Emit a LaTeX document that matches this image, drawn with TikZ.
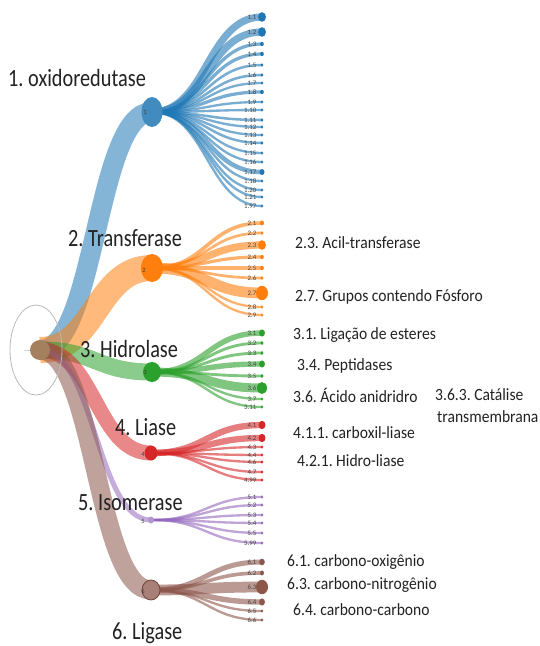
\documentclass[tikz,border=0pt]{standalone}
\usepackage{fontspec}
\setmainfont{Carlito}
\usepackage{graphicx}
\usetikzlibrary{shapes.geometric}
\definecolor{cA}{HTML}{1F77B4}
\definecolor{cB}{HTML}{FF7F0E}
\definecolor{cC}{HTML}{2CA02C}
\definecolor{cD}{HTML}{D62728}
\definecolor{cE}{HTML}{9467BD}
\definecolor{cF}{HTML}{8C564B}
\definecolor{rootc}{HTML}{A4805F}
\definecolor{leaftxt}{HTML}{444444}
\definecolor{labtxt}{HTML}{222222}
\pgfdeclarelayer{bg}
\pgfsetlayers{bg,main}
\frenchspacing
\tikzset{
  cnode/.style={ellipse, inner sep=0pt, draw=none},
  dotnode/.style={ellipse, inner sep=0pt, draw=none},
  leaflab/.style={anchor=east, inner sep=0pt, text=leaftxt, font=\fontsize{6.8}{7}\selectfont},
  clab/.style={inner sep=0pt, text=black!75, font=\fontsize{6.5}{7}\selectfont},
  biglab/.style={anchor=west, inner sep=0pt, text=labtxt, font=\fontsize{20.3}{22}\selectfont},
  smalllab/.style={anchor=west, inner sep=0pt, text=labtxt, font=\fontsize{15.6}{17}\selectfont},
  band/.style={line cap=butt, draw opacity=0.6},
  rootband/.style={line cap=butt, draw opacity=0.55},
}
\newcommand\classleaves[3]{%
  \foreach \n/\yy/\rr in {#3} {%
    \pgfmathsetmacro\w{max(1.3,1.8*\rr)}%
    \node[dotnode, fill=#2, minimum width={2*\rr*1pt}, minimum height={2.4*\rr*1pt}] (L#1-\n) at (262,\yy) {};
    \node[leaflab] (T#1-\n) at (256.5,\yy) {#1.\n};
    \begin{pgfonlayer}{bg}
      \draw[band, #2, line width=\w pt] (N#1.center) .. controls +(55,0) and +(-55,0) .. (L#1-\n.center);
    \end{pgfonlayer}
  }}
\newcommand\bigtext[1]{\scalebox{1}[1.22]{#1}}
\newcommand\smalltext[1]{\scalebox{1}[1.1]{#1}}
\begin{document}
\begin{tikzpicture}[x=1pt,y=-1pt]
\useasboundingbox (0,0) rectangle (539,646);

% root and frame
\node[ellipse, draw=gray!55, line width=0.8pt, minimum width=52pt, minimum height=90pt] (G) at (36,350) {};
\node[circle, fill=rootc, inner sep=0pt, minimum size=20pt] (R) at (40,350) {};
\node[inner sep=0pt, text=gray, font=\fontsize{5}{5}\selectfont] (RL) at (28,352) {\textasciitilde\textasciitilde\textasciitilde};

% class nodes
\node[cnode, fill=cA!85, minimum width=21pt, minimum height=30pt] (N1) at (152,112) {};
\node[cnode, fill=cB, minimum width=22pt, minimum height=28pt] (N2) at (152,268) {};
\node[cnode, fill=cC, minimum width=18pt, minimum height=20pt] (N3) at (152,372) {};
\node[cnode, fill=cD, minimum width=13pt, minimum height=15pt] (N4) at (151,453) {};
\node[cnode, fill=cE!70, minimum width=6pt, minimum height=7pt] (N5) at (151,520) {};
\node[cnode, fill=cF!75, draw=cF!80!black, line width=0.8pt, minimum width=18pt, minimum height=20pt] (N6) at (151,590) {};

\node[clab] (K1) at (145,112) {1};
\node[clab] (K2) at (144,270) {2};
\node[clab] (K3) at (145,372) {3};
\node[clab] (K4) at (143,454) {4};
\node[clab] (K5) at (143,521) {5};
\node[clab] (K6) at (143,591) {6};

% root bands
\begin{pgfonlayer}{bg}
\draw[rootband, cA, line width=20pt] (R.center) .. controls +(56,0) and +(-56,0) .. (N1.center);
\draw[rootband, cB, line width=26pt] (R.center) .. controls +(56,0) and +(-56,0) .. (N2.center);
\draw[rootband, cC, line width=17pt] (R.center) .. controls +(56,0) and +(-56,0) .. (N3.center);
\draw[rootband, cD, line width=15pt] (R.center) .. controls +(55,0) and +(-55,0) .. (N4.center);
\draw[rootband, cE, line width=5pt] (R.center) .. controls +(55,0) and +(-55,0) .. (N5.center);
\draw[rootband, cF, line width=19pt] (R.center) .. controls +(55,0) and +(-55,0) .. (N6.center);
\end{pgfonlayer}

% leaves
\classleaves{1}{cA}{1/17/4, 2/32/4, 3/44/1.8, 4/54/1.8, 5/65/1.4, 6/75/1.4, 7/83/1.3, 8/92/1.8, 9/102/1.3, 10/110/1.3, 11/120/1.4, 12/127/1.3, 13/135/1.3, 14/143/1.4, 15/153/1.3, 16/162/1.3, 17/172/2.5, 18/181/1.3, 20/190/1.3, 21/197/1.3, 97/206/1.3}
\classleaves{2}{cB}{1/223/2, 2/233/1.5, 3/245/4, 4/257/1.8, 5/268/1.8, 6/278/1.5, 7/293/6, 8/307/1.3, 9/315/1.3}
\classleaves{3}{cC}{1/333/3, 2/343/1.6, 3/353/1.6, 4/364/3, 5/376/1.6, 6/388/5, 7/399/1.3, 11/407/1.3}
\classleaves{4}{cD}{1/425/3.5, 2/438/3.5, 3/447/1.3, 4/455/1.3, 6/462/1.3, 7/472/1.3, 99/480/1.3}
\classleaves{5}{cE}{1/497/1.3, 2/505/1.3, 3/515/1.3, 4/523/1.3, 5/533/1.3, 99/543/1.3}
\classleaves{6}{cF}{1/562/2.8, 2/573/2, 3/587/6, 4/602/3, 5/611/1.3, 6/620/1.3}

% big labels
\node[biglab] (B1) at (8,78) {\bigtext{1. oxidoredutase}};
\node[biglab] (B2) at (68,238) {\bigtext{2. Transferase}};
\node[biglab] (B3) at (80,349) {\bigtext{3. Hidrolase}};
\node[biglab] (B4) at (115,427) {\bigtext{4. Liase}};
\node[biglab] (B5) at (78,503) {\bigtext{5. Isomerase}};
\node[biglab] (B6) at (112,633) {\bigtext{6. Ligase}};

% annotation labels
\node[smalllab] (S1) at (295,243) {\smalltext{2.3. Acil-transferase}};
\node[smalllab] (S2) at (295,297) {\smalltext{2.7. Grupos contendo Fósforo}};
\node[smalllab] (S3) at (293,335) {\smalltext{3.1. Ligação de esteres}};
\node[smalllab] (S4) at (297,366) {\smalltext{3.4. Peptidases}};
\node[smalllab] (S5) at (293,395) {\smalltext{3.6. Ácido anidridro}};
\node[smalllab] (S6) at (435,395) {\smalltext{3.6.3. Catálise}};
\node[smalllab] (S7) at (437,417) {\smalltext{transmembrana}};
\node[smalllab] (S8) at (293,433) {\smalltext{4.1.1. carboxil-liase}};
\node[smalllab] (S9) at (297,461) {\smalltext{4.2.1. Hidro-liase}};
\node[smalllab] (S10) at (287,562) {\smalltext{6.1. carbono-oxigênio}};
\node[smalllab] (S11) at (287,585) {\smalltext{6.3. carbono-nitrogênio}};
\node[smalllab] (S12) at (293,610) {\smalltext{6.4. carbono-carbono}};
\end{tikzpicture}
\end{document}
